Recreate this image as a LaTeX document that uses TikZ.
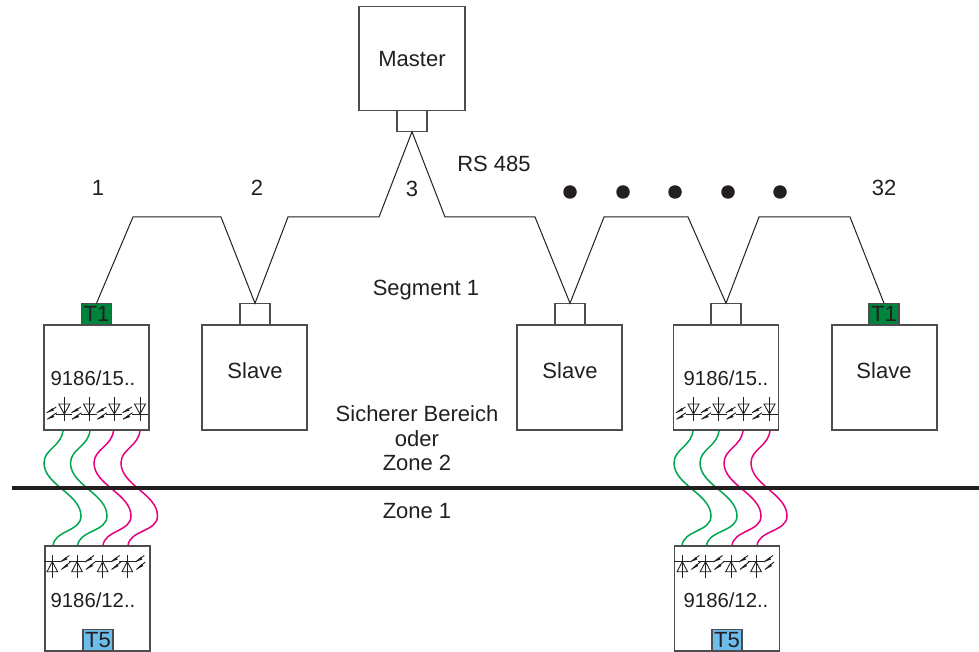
\documentclass[tikz,border=0pt]{standalone}
\usepackage{fontspec}
\setmainfont{Liberation Sans}
\definecolor{ink}{HTML}{231F20}
\definecolor{edge}{HTML}{4D4D4F}
\definecolor{tgreen}{HTML}{00843D}
\definecolor{tblue}{HTML}{6DBDEB}
\definecolor{wgreen}{HTML}{00A651}
\definecolor{wpink}{HTML}{E6007E}
\tikzset{
  box/.style={draw=edge,line width=1.3pt,fill=white,inner sep=0pt,outer sep=0pt,minimum width=105pt,minimum height=105pt,text=ink},
  port/.style={draw=edge,line width=1.3pt,fill=white,inner sep=0pt,outer sep=0pt,minimum width=30pt,minimum height=21.5pt,text=ink,font=\fontsize{22}{22}\selectfont},
  tgreenport/.style={port,fill=tgreen},
  tblueport/.style={port,fill=tblue},
  lbl/.style={inner sep=0pt,text=ink,font=\fontsize{22}{26}\selectfont},
  devlbl/.style={inner sep=0pt,text=ink,font=\fontsize{20.3}{24}\selectfont},
  bus/.style={draw=ink,line width=1pt,line join=miter},
  wireg/.style={draw=wgreen,line width=1.5pt},
  wirep/.style={draw=wpink,line width=1.5pt},
  dotmark/.style={circle,fill=ink,inner sep=0pt,outer sep=0pt,minimum size=13.5pt},
  pics/diodedown/.style={code={
    \draw[ink,line width=.9pt] (0,-12) -- (0,12);
    \draw[ink,line width=.9pt] (-5.5,-5) -- (5.5,-5) -- (0,5) -- cycle;
    \draw[ink,line width=.9pt] (-8,5) -- (8,5);
    \draw[ink,line width=.9pt] (-17.5,3.7) -- (-8,-2);
    \draw[ink,line width=.9pt] (-17,10.3) -- (-7.5,3.7);
    \fill[ink] (-17.5,3.7) -- (-11.8,-0.9) -- (-10.4,1.5) -- cycle;
    \fill[ink] (-17,10.3) -- (-11.3,5.7) -- (-9.9,8.1) -- cycle;
  }},
  pics/diodeup/.style={code={
    \draw[ink,line width=.9pt] (0,-11.5) -- (0,11.5);
    \draw[ink,line width=.9pt] (-5.3,5.2) -- (5.3,5.2) -- (0,-4.8) -- cycle;
    \draw[ink,line width=.9pt] (-8,-4.8) -- (8,-4.8);
    \draw[ink,line width=.9pt] (8,-4.5) -- (17,-11);
    \draw[ink,line width=.9pt] (9,3) -- (18,-4.5);
    \fill[ink] (8,-4.5) -- (13.6,-9.4) -- (15,-7) -- cycle;
    \fill[ink] (9,3) -- (14.4,-2.6) -- (16,-0.4) -- cycle;
  }}
}
\begin{document}
\begin{tikzpicture}[x=1pt,y=-1pt]
\useasboundingbox (0,0) rectangle (979,652);
\fill[white] (0,0) rectangle (979,652);

% wires (behind the boxes)
\coordinate (a1) at (63,430); \coordinate (a2) at (90,430); \coordinate (a3) at (113.5,430); \coordinate (a4) at (140,430);
\coordinate (b1) at (53,546); \coordinate (b2) at (77.5,546); \coordinate (b3) at (103,546); \coordinate (b4) at (128,546);
\coordinate (c1) at (693,430); \coordinate (c2) at (719,430); \coordinate (c3) at (743,430); \coordinate (c4) at (770,430);
\coordinate (d1) at (682,546); \coordinate (d2) at (706.5,546); \coordinate (d3) at (732,546); \coordinate (d4) at (757,546);

\path[wireg] (a1) .. controls (62,446) and (44,449) .. (44,463) .. controls (44,485) and (81,494) .. (81,516) .. controls (81,532) and (54,530) .. (b1);
\path[wireg] (a2) .. controls (89,446) and (70.5,449) .. (70.5,463) .. controls (70.5,485) and (107,494) .. (107,516) .. controls (107,532) and (79,530) .. (b2);
\path[wirep] (a3) .. controls (112.5,446) and (94,449) .. (94,463) .. controls (94,485) and (131,494) .. (131,516) .. controls (131,532) and (104,530) .. (b3);
\path[wirep] (a4) .. controls (139,446) and (121,449) .. (121,463) .. controls (121,485) and (157.5,494) .. (157.5,516) .. controls (157.5,532) and (129,530) .. (b4);
\path[wireg] (c1) .. controls (692,446) and (674,449) .. (674,463) .. controls (674,485) and (711,494) .. (711,516) .. controls (711,532) and (683,530) .. (d1);
\path[wireg] (c2) .. controls (718,446) and (700,449) .. (700,463) .. controls (700,485) and (737,494) .. (737,516) .. controls (737,532) and (708,530) .. (d2);
\path[wirep] (c3) .. controls (742,446) and (724,449) .. (724,463) .. controls (724,485) and (761,494) .. (761,516) .. controls (761,532) and (733,530) .. (d3);
\path[wirep] (c4) .. controls (769,446) and (751,449) .. (751,463) .. controls (751,485) and (787,494) .. (787,516) .. controls (787,532) and (758,530) .. (d4);

% zone line
\coordinate (zl) at (12,488); \coordinate (zr) at (979,488);
\draw[ink,line width=4pt] (zl) -- (zr);

% master and slaves
\node[box,minimum width=106pt,minimum height=103.5pt] (master) at (412,58.5) {};
\node[lbl] (mastertext) at (412,59) {Master};
\node[port] (mport) at (412,121) {};
\node[box] (s1) at (96.5,377.5) {};
\node[box] (s2) at (254.5,377.5) {};
\node[box] (s3) at (569.5,377.5) {};
\node[box] (s4) at (726.2,377.5) {};
\node[box] (s5) at (884.5,377.5) {};
\node[box] (z1) at (97.5,598.5) {};
\node[box] (z2) at (727,598.5) {};

\node[tgreenport] (p1) at (96.5,314) {T1};
\node[port] (p2) at (255,314) {};
\node[port] (p3) at (570,314) {};
\node[port] (p4) at (726,314) {};
\node[tgreenport] (p5) at (884,314) {T1};
\node[tblueport] (q1) at (98,640) {T5};
\node[tblueport] (q2) at (727,640) {T5};

% bus
\draw[bus] (p1.north) -- (133,217) -- (221,217) -- (p2.north) -- (288,217) -- (379,217) -- (mport.south) -- (445,217) -- (535,217) -- (p3.north) -- (604,217) -- (688,217) -- (p4.north) -- (759,217) -- (850,217) -- (p5.north);

% dots
\node[dotmark] (e1) at (570,192) {};
\node[dotmark] (e2) at (623,192) {};
\node[dotmark] (e3) at (675,192) {};
\node[dotmark] (e4) at (728,192) {};
\node[dotmark] (e5) at (780,192) {};

% labels
\node[lbl] (l1) at (98,188) {1};
\node[lbl] (l2) at (257,188) {2};
\node[lbl] (l3) at (412,189) {3};
\node[lbl] (l4) at (494,164) {RS 485};
\node[lbl] (l5) at (884,188) {32};
\node[lbl] (l6) at (426,290) {Segment 1};
\node[lbl] (t2) at (255,371) {Slave};
\node[lbl] (t3) at (570,371) {Slave};
\node[lbl] (t5) at (884,371) {Slave};
\node[devlbl] (t1) at (93,378) {9186/15..};
\node[devlbl] (t4) at (726,378) {9186/15..};
\node[devlbl] (u1) at (93,600) {9186/12..};
\node[devlbl] (u2) at (726,600) {9186/12..};
\node[lbl] (zz1) at (417,414) {Sicherer Bereich};
\node[lbl] (zz2) at (417,439) {oder};
\node[lbl] (zz3) at (417,463) {Zone 2};
\node[lbl] (zz4) at (417,511) {Zone 1};

% diodes
\foreach \dx in {64.3,89,114.3,140,693.5,718.5,743.5,769.5}
  \pic at (\dx,409) {diodedown};
\foreach \dx in {52.3,77,102.7,127.3,682.3,705.5,731,756}
  \pic at (\dx,566.5) {diodeup};
\end{tikzpicture}
\end{document}
